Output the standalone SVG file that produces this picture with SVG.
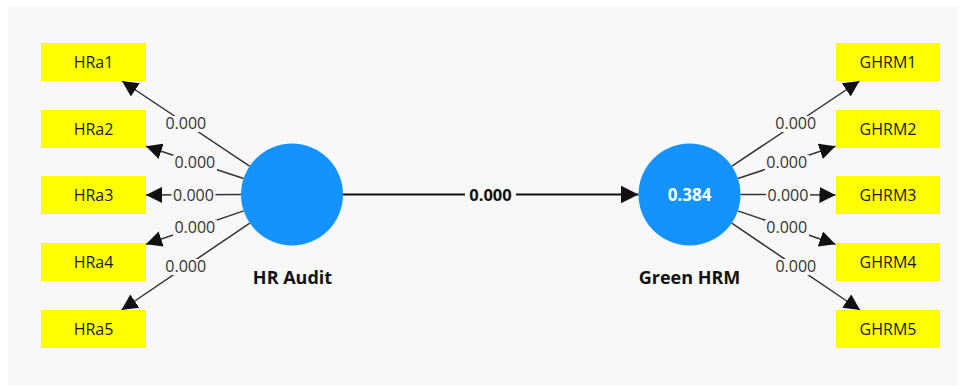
<svg xmlns="http://www.w3.org/2000/svg" width="965" height="389" viewBox="0 0 965 389">
<style>
.box{fill:#ffff00}
.bt{font-family:"Open Sans","Noto Sans",sans-serif;font-size:16px;fill:#1a1a1a;text-anchor:middle}
.lv{font-family:"Open Sans","Noto Sans",sans-serif;font-size:16px;fill:#333;text-anchor:middle}
.lbg{fill:#f8f8f8}
.ln{stroke:#333;stroke-width:1.5;fill:none;marker-end:url(#ah)}
.main{stroke:#111;stroke-width:2.2;fill:none;marker-end:url(#ahb)}
.circ{fill:#1493ff}
.nl{font-family:"Open Sans","Noto Sans",sans-serif;font-size:16.5px;font-weight:bold;fill:#111;text-anchor:middle}
.big{font-size:18px}
</style>
<defs>
<marker id="ah" markerUnits="userSpaceOnUse" markerWidth="16" markerHeight="16" viewBox="0 0 14 14" refX="14" refY="7" orient="auto"><path d="M0,0 L14,7 L0,14 Z" fill="#111"/></marker>
<marker id="ahb" markerUnits="userSpaceOnUse" markerWidth="18" markerHeight="18" viewBox="0 0 16 16" refX="16" refY="8" orient="auto"><path d="M0,0 L16,8 L0,16 Z" fill="#111"/></marker>
</defs>
<rect x="8" y="6" width="950" height="379" fill="#f8f8f8"/>
<g id="connectors">
<line class="main" x1="343" y1="194.5" x2="638.5" y2="194.5"/>
<rect class="lbg" x="465" y="186" width="51" height="18"/>
<text class="nl" x="490.5" y="200.5">0.000</text>
<line class="ln" x1="249.6" y1="166.2" x2="122" y2="81"/>
<line class="ln" x1="243.6" y1="178.5" x2="146" y2="146.3"/>
<line class="ln" x1="241" y1="194.5" x2="146" y2="195"/>
<line class="ln" x1="243.7" y1="210.9" x2="146" y2="244.2"/>
<line class="ln" x1="249.8" y1="223.1" x2="121.5" y2="310"/>
<line class="ln" x1="731.9" y1="166.2" x2="859.5" y2="81"/>
<line class="ln" x1="737.9" y1="178.5" x2="835.5" y2="146.3"/>
<line class="ln" x1="740.5" y1="194.5" x2="835.5" y2="195"/>
<line class="ln" x1="737.8" y1="210.9" x2="835.5" y2="244.2"/>
<line class="ln" x1="731.7" y1="223.1" x2="860" y2="310"/>
<g>
<rect class="lbg" x="164" y="116" width="44" height="16"/><text class="lv" x="185.8" y="129.3">0.000</text>
<rect class="lbg" x="173" y="155" width="44" height="16"/><text class="lv" x="194.8" y="168.2">0.000</text>
<rect class="lbg" x="171.5" y="187" width="44" height="16"/><text class="lv" x="193.5" y="200.5">0.000</text>
<rect class="lbg" x="173" y="220" width="44" height="16"/><text class="lv" x="194.8" y="233.3">0.000</text>
<rect class="lbg" x="164" y="259" width="44" height="16"/><text class="lv" x="185.7" y="272.3">0.000</text>
<rect class="lbg" x="774" y="116" width="44" height="16"/><text class="lv" x="795.7" y="129.3">0.000</text>
<rect class="lbg" x="765" y="155" width="44" height="16"/><text class="lv" x="786.7" y="168.2">0.000</text>
<rect class="lbg" x="766" y="187" width="44" height="16"/><text class="lv" x="788" y="200.5">0.000</text>
<rect class="lbg" x="765" y="220" width="44" height="16"/><text class="lv" x="786.7" y="233.3">0.000</text>
<rect class="lbg" x="774" y="259" width="44" height="16"/><text class="lv" x="795.8" y="272.3">0.000</text>
</g>
</g>
<g id="HRAudit">
<circle class="circ" cx="292" cy="194.5" r="51"/>
<text class="nl big" x="292.5" y="283.5">HR Audit</text>
</g>
<g id="GreenHRM">
<circle class="circ" cx="689.5" cy="194.5" r="51"/>
<text class="nl" x="689.5" y="200.5" style="fill:#fff;font-size:17px">0.384</text>
<text class="nl big" x="689.5" y="283.5">Green HRM</text>
</g>
<g id="HRa1"><rect class="box" x="41" y="43" width="105" height="38"/><text class="bt" x="93.5" y="67.5">HRa1</text></g>
<g id="HRa2"><rect class="box" x="41" y="110" width="105" height="38"/><text class="bt" x="93.5" y="134.5">HRa2</text></g>
<g id="HRa3"><rect class="box" x="41" y="176" width="105" height="38"/><text class="bt" x="93.5" y="200.5">HRa3</text></g>
<g id="HRa4"><rect class="box" x="41" y="243" width="105" height="38"/><text class="bt" x="93.5" y="267.5">HRa4</text></g>
<g id="HRa5"><rect class="box" x="41" y="310" width="105" height="38"/><text class="bt" x="93.5" y="334.5">HRa5</text></g>
<g id="GHRM1"><rect class="box" x="836" y="43" width="104" height="38"/><text class="bt" x="888" y="67.5">GHRM1</text></g>
<g id="GHRM2"><rect class="box" x="836" y="110" width="104" height="38"/><text class="bt" x="888" y="134.5">GHRM2</text></g>
<g id="GHRM3"><rect class="box" x="836" y="176" width="104" height="38"/><text class="bt" x="888" y="200.5">GHRM3</text></g>
<g id="GHRM4"><rect class="box" x="836" y="243" width="104" height="38"/><text class="bt" x="888" y="267.5">GHRM4</text></g>
<g id="GHRM5"><rect class="box" x="836" y="310" width="104" height="38"/><text class="bt" x="888" y="334.5">GHRM5</text></g>
</svg>
